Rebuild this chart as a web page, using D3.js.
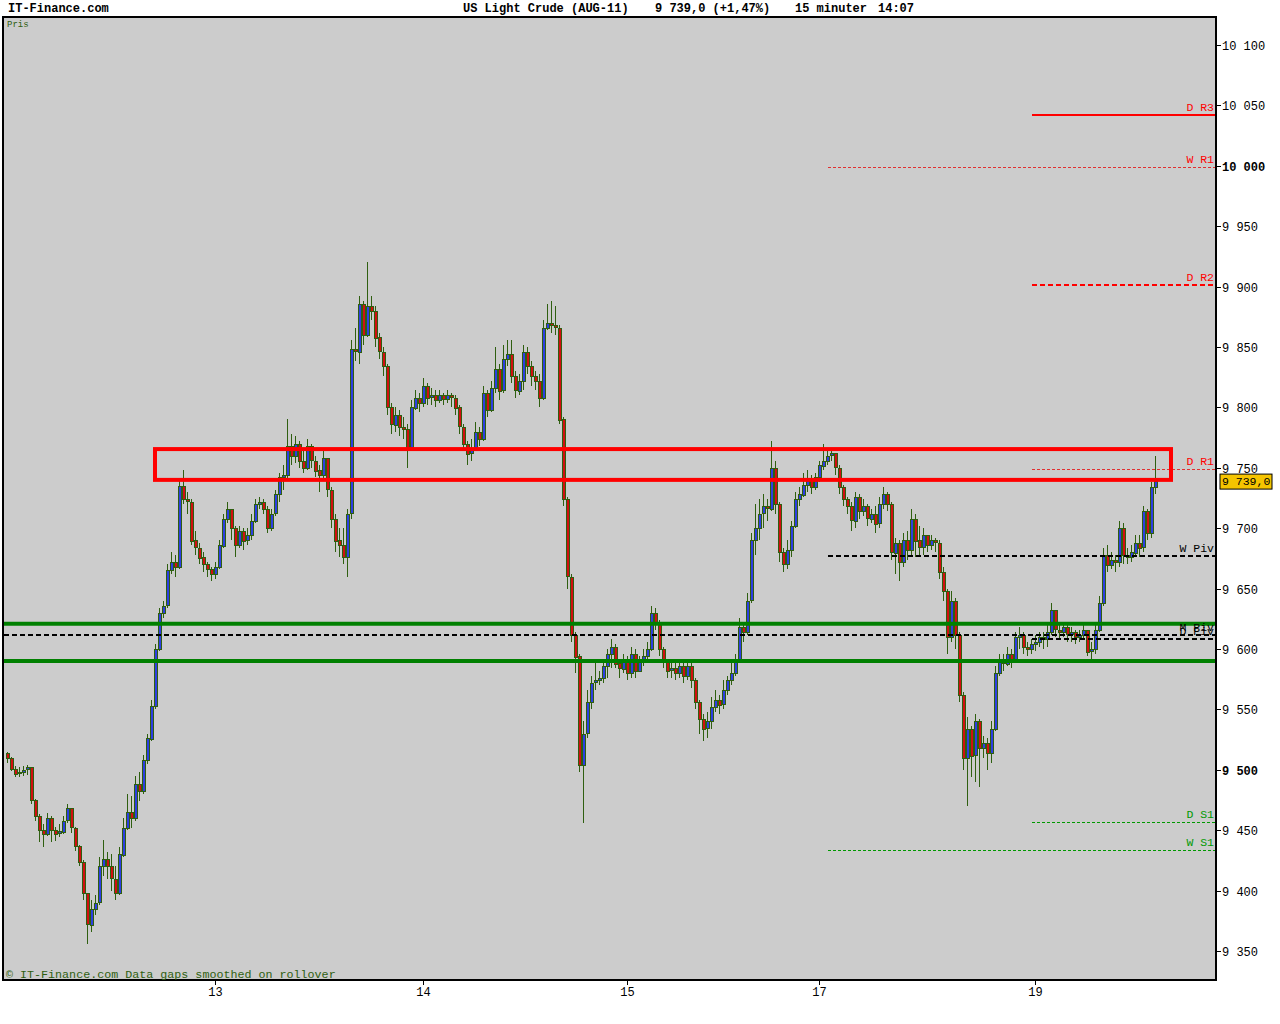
<!doctype html>
<html>
<head>
<meta charset="utf-8">
<title>US Light Crude (AUG-11)</title>
<script src="https://cdn.jsdelivr.net/npm/d3@7"></script>
<style>
  body { margin: 0; background: #ffffff; }
  svg { display: block; }
  text { font-family: "Liberation Mono", "DejaVu Sans Mono", monospace; }
</style>
</head>
<body>
<script>

    // 15 minute bars, open = previous close
    var firstOpen = 9514;
    var closes = [
        9510, 9501, 9497, 9498, 9500, 9502, 9475, 9462, 9450, 9447,
        9460, 9450, 9447, 9449, 9458, 9468, 9452, 9437, 9424, 9398,
        9372, 9385, 9390, 9420, 9426, 9420, 9410, 9398, 9430, 9452,
        9465, 9460, 9488, 9482, 9508, 9526, 9553, 9600, 9630, 9636,
        9665, 9672, 9668, 9735, 9724, 9722, 9690, 9684, 9676, 9670,
        9666, 9662, 9668, 9686, 9708, 9716, 9700, 9686, 9698, 9690,
        9694, 9706, 9720, 9722, 9716, 9700, 9712, 9728, 9742, 9744,
        9768, 9760, 9770, 9756, 9750, 9768, 9756, 9748, 9744, 9758,
        9732, 9708, 9690, 9686, 9676, 9712, 9848, 9846, 9886, 9860,
        9884, 9880, 9858, 9846, 9834, 9800, 9786, 9794, 9784, 9782,
        9766, 9800, 9808, 9804, 9818, 9808, 9810, 9806, 9810, 9807,
        9810, 9808, 9800, 9784, 9770, 9762, 9766, 9780, 9774, 9812,
        9798, 9816, 9832, 9814, 9840, 9844, 9826, 9814, 9822, 9846,
        9834, 9826, 9822, 9808, 9866, 9870, 9868, 9866, 9790, 9724,
        9660, 9612, 9594, 9504, 9530, 9556, 9572, 9574, 9576, 9586,
        9596, 9602, 9588, 9584, 9592, 9580, 9596, 9582, 9590, 9594,
        9600, 9630, 9622, 9600, 9590, 9582, 9584, 9580, 9586, 9578,
        9586, 9574, 9556, 9542, 9534, 9540, 9552, 9558, 9554, 9566,
        9574, 9580, 9590, 9618, 9614, 9640, 9690, 9700, 9712, 9718,
        9716, 9750, 9720, 9680, 9670, 9682, 9702, 9724, 9728, 9736,
        9740, 9734, 9742, 9752, 9756, 9760, 9762, 9750, 9734, 9724,
        9718, 9706, 9726, 9714, 9718, 9708, 9712, 9704, 9720, 9728,
        9720, 9680, 9688, 9672, 9690, 9682, 9708, 9690, 9684, 9694,
        9686, 9690, 9688, 9664, 9648, 9610, 9640, 9612, 9562, 9510,
        9534, 9512, 9540, 9518, 9522, 9514, 9534, 9580, 9590, 9588,
        9596, 9592, 9610, 9612, 9602, 9600, 9604, 9606, 9610, 9608,
        9614, 9632, 9616, 9614, 9618, 9612, 9614, 9610, 9612, 9616,
        9598, 9600, 9616, 9638, 9678, 9670, 9674, 9672, 9700, 9678,
        9676, 9680, 9688, 9684, 9714, 9696, 9734, 9739
    ];
    var highs = [
        9515, 9511, 9503, 9502, 9503, 9504, 9502, 9476, 9463, 9455,
        9464, 9462, 9453, 9455, 9462, 9472, 9468, 9453, 9438, 9425,
        9398, 9392, 9396, 9428, 9442, 9432, 9430, 9420, 9436, 9460,
        9480, 9478, 9495, 9498, 9512, 9530, 9558, 9604, 9634, 9640,
        9670, 9680, 9678, 9740, 9748, 9730, 9724, 9698, 9688, 9680,
        9672, 9668, 9672, 9690, 9712, 9722, 9716, 9702, 9702, 9700,
        9700, 9712, 9724, 9726, 9724, 9718, 9716, 9732, 9746, 9752,
        9790, 9778, 9776, 9772, 9765, 9774, 9770, 9760, 9752, 9764,
        9758, 9734, 9712, 9700, 9700, 9716, 9856, 9866, 9892, 9888,
        9920, 9892, 9884, 9862, 9850, 9836, 9804, 9800, 9798, 9792,
        9786, 9806, 9814, 9812, 9824, 9820, 9816, 9814, 9814, 9812,
        9814, 9812, 9810, 9802, 9786, 9772, 9774, 9788, 9784, 9818,
        9814, 9822, 9850, 9836, 9852, 9856, 9856, 9830, 9828, 9852,
        9850, 9838, 9830, 9828, 9872, 9886, 9888, 9884, 9868, 9792,
        9726, 9662, 9614, 9596, 9540, 9566, 9578, 9588, 9582, 9590,
        9600, 9608, 9604, 9592, 9596, 9594, 9602, 9600, 9594, 9600,
        9606, 9636, 9634, 9624, 9602, 9592, 9590, 9588, 9590, 9592,
        9592, 9588, 9576, 9558, 9546, 9548, 9560, 9566, 9562, 9574,
        9578, 9588, 9596, 9626, 9622, 9646, 9696, 9720, 9724, 9728,
        9724, 9772, 9756, 9722, 9684, 9690, 9706, 9730, 9734, 9746,
        9748, 9744, 9746, 9756, 9770, 9764, 9766, 9762, 9752, 9736,
        9726, 9722, 9730, 9728, 9724, 9720, 9716, 9718, 9726, 9734,
        9730, 9722, 9692, 9690, 9696, 9698, 9716, 9712, 9702, 9700,
        9694, 9694, 9692, 9690, 9668, 9650, 9648, 9642, 9614, 9564,
        9544, 9536, 9546, 9542, 9528, 9526, 9540, 9586, 9596, 9596,
        9602, 9600, 9614, 9618, 9614, 9606, 9608, 9612, 9614, 9614,
        9620, 9638, 9630, 9620, 9622, 9620, 9618, 9616, 9616, 9622,
        9616, 9606, 9620, 9644, 9684, 9686, 9680, 9678, 9706, 9704,
        9684, 9686, 9694, 9694, 9718, 9716, 9738, 9760
    ];
    var lows = [
        9506, 9499, 9494, 9494, 9495, 9496, 9472, 9458, 9440, 9436,
        9445, 9440, 9441, 9444, 9447, 9456, 9448, 9433, 9420, 9392,
        9356, 9366, 9380, 9388, 9412, 9410, 9400, 9392, 9396, 9428,
        9450, 9452, 9458, 9474, 9480, 9505, 9524, 9550, 9598, 9626,
        9634, 9662, 9660, 9666, 9720, 9712, 9686, 9678, 9670, 9664,
        9660, 9656, 9658, 9666, 9684, 9704, 9690, 9676, 9684, 9682,
        9686, 9690, 9704, 9716, 9712, 9696, 9698, 9710, 9722, 9732,
        9740, 9752, 9754, 9750, 9746, 9748, 9750, 9742, 9730, 9740,
        9726, 9700, 9680, 9676, 9670, 9660, 9708, 9838, 9836, 9852,
        9858, 9872, 9850, 9840, 9826, 9794, 9778, 9780, 9776, 9774,
        9750, 9764, 9798, 9796, 9800, 9802, 9802, 9800, 9804, 9802,
        9804, 9800, 9794, 9778, 9764, 9752, 9756, 9764, 9768, 9772,
        9792, 9796, 9812, 9806, 9812, 9834, 9820, 9808, 9810, 9814,
        9828, 9818, 9814, 9800, 9806, 9864, 9862, 9860, 9786, 9718,
        9650, 9606, 9580, 9498, 9456, 9526, 9550, 9566, 9570, 9572,
        9576, 9584, 9584, 9576, 9580, 9574, 9576, 9576, 9582, 9586,
        9588, 9598, 9616, 9594, 9584, 9576, 9576, 9574, 9576, 9572,
        9574, 9568, 9550, 9530, 9524, 9526, 9534, 9548, 9546, 9550,
        9562, 9570, 9578, 9588, 9606, 9612, 9638, 9678, 9690, 9700,
        9706, 9714, 9712, 9672, 9664, 9666, 9676, 9700, 9718, 9726,
        9730, 9728, 9732, 9738, 9748, 9752, 9756, 9744, 9728, 9718,
        9712, 9698, 9700, 9708, 9710, 9702, 9704, 9696, 9700, 9716,
        9714, 9674, 9662, 9656, 9668, 9674, 9678, 9676, 9676, 9678,
        9680, 9682, 9680, 9658, 9640, 9596, 9606, 9600, 9556, 9500,
        9470, 9494, 9490, 9486, 9510, 9500, 9506, 9532, 9578, 9582,
        9586, 9584, 9590, 9600, 9596, 9594, 9596, 9598, 9602, 9600,
        9602, 9612, 9610, 9608, 9610, 9606, 9606, 9604, 9606, 9608,
        9594, 9592, 9596, 9614, 9636, 9664, 9666, 9664, 9668, 9670,
        9670, 9672, 9678, 9676, 9680, 9690, 9692, 9728
    ];

    // day labels and the bar index where each day starts
    var dayLabels = ["13", "14", "15", "17", "19"];
    var dayStart = [52, 104, 155, 203, 257];

    var priceTicks = [9350, 9400, 9450, 9500, 9550, 9600, 9650, 9700, 9750, 9800, 9850, 9900, 9950, 10000, 10050, 10100];

    // pivot levels: name, value, bar index where the line starts
    var levelNames = ["D R3", "W R1", "D R2", "D R1", "W Piv", "M Piv", "D Piv", "D S1", "W S1"];
    var levelValues = [10042, 9999, 9901, 9749, 9677, 9612, 9608, 9457, 9434];
    var levelFrom = [257, 206, 257, 257, 206, 0, 257, 257, 206];

    // hand drawn support lines and resistance box
    var supportLines = [9621, 9590];
    var boxBars = [37, 291];
    var boxPrices = [9740, 9765.5];

    var lastPrice = "9 739,0";

    var W = 1280, H = 1024;
    var plotLeft = 4, plotRight = 1216, plotTop = 18, plotBottom = 980;

    var svg = d3.select("body").append("svg")
        .attr("width", W)
        .attr("height", H);

    var x = d3.scaleLinear().domain([0, closes.length - 1]).range([7, 1155]);
    var y = d3.scaleLinear().domain([9350, 10100]).range([951, 45]);

    var fmt = function(d) { return d3.format(",")(d).replace(/,/g, " "); };

    // plot background
    svg.append("rect")
        .attr("x", plotLeft)
        .attr("y", plotTop)
        .attr("width", plotRight - plotLeft)
        .attr("height", plotBottom - plotTop)
        .attr("fill", "#cccccc");

    svg.append("defs").append("clipPath").attr("id", "clip")
        .append("rect")
        .attr("x", plotLeft)
        .attr("y", plotTop)
        .attr("width", plotRight - plotLeft)
        .attr("height", plotBottom - plotTop);

    var plot = svg.append("g").attr("clip-path", "url(#clip)");

    // candles
    var bars = closes.map(function(c, i) {
        return { i: i, o: i === 0 ? firstOpen : closes[i - 1], c: c, h: highs[i], l: lows[i] };
    });

    var wickColor = "#2f5f10";

    plot.append("g").selectAll("line")
        .data(bars)
        .enter().append("line")
        .attr("x1", function(d) { return Math.round(x(d.i)) + 0.5; })
        .attr("x2", function(d) { return Math.round(x(d.i)) + 0.5; })
        .attr("y1", function(d) { return y(d.h); })
        .attr("y2", function(d) { return y(d.l); })
        .attr("stroke", wickColor)
        .attr("stroke-width", 1)
        .attr("shape-rendering", "crispEdges");

    plot.append("g").selectAll("rect")
        .data(bars)
        .enter().append("rect")
        .attr("x", function(d) { return Math.round(x(d.i)) - 1; })
        .attr("y", function(d) { return Math.round(y(Math.max(d.o, d.c))) + 0.5; })
        .attr("width", 3)
        .attr("height", function(d) { return Math.max(1, Math.round(Math.abs(y(d.o) - y(d.c)))); })
        .attr("fill", function(d) { return d.c > d.o ? "#2d3fe0" : (d.c < d.o ? "#d01010" : wickColor); })
        .attr("stroke", wickColor)
        .attr("stroke-width", 1)
        .attr("shape-rendering", "crispEdges");

    // pivot lines
    function levelColor(name) {
        if (name.indexOf("R") > 0) return "#ff0000";
        if (name.indexOf("S") > 0) return "#009900";
        return "#000000";
    }
    function levelWidth(name) {
        if (name === "D R3" || name === "D R2" || name.indexOf("Piv") > 0) return 2;
        return 1;
    }
    function levelDash(name) {
        if (name === "D R3") return null;
        if (name === "D R2" || name.indexOf("Piv") > 0) return "5,3";
        return "3,2";
    }

    levelNames.forEach(function(name, k) {
        var ly = Math.round(y(levelValues[k]));
        plot.append("line")
            .attr("x1", k === 5 ? plotLeft : x(levelFrom[k]) - 3)
            .attr("x2", plotRight)
            .attr("y1", ly)
            .attr("y2", ly)
            .attr("stroke", name === "W R1" || name === "D R1" ? "#e03030" : levelColor(name))
            .attr("stroke-width", levelWidth(name))
            .attr("stroke-dasharray", levelDash(name))
            .attr("shape-rendering", "crispEdges");
        svg.append("text")
            .attr("x", plotRight - 2)
            .attr("y", ly - 4)
            .attr("text-anchor", "end")
            .attr("font-size", "11.5px")
            .attr("fill", levelColor(name))
            .text(name);
    });

    // support lines
    plot.selectAll(".support")
        .data(supportLines)
        .enter().append("line")
        .attr("class", "support")
        .attr("x1", plotLeft)
        .attr("x2", plotRight)
        .attr("y1", function(d) { return y(d); })
        .attr("y2", function(d) { return y(d); })
        .attr("stroke", "#008000")
        .attr("stroke-width", 4);

    // resistance box
    svg.append("rect")
        .attr("x", x(boxBars[0]))
        .attr("y", y(boxPrices[1]))
        .attr("width", x(boxBars[1]) - x(boxBars[0]))
        .attr("height", y(boxPrices[0]) - y(boxPrices[1]))
        .attr("fill", "none")
        .attr("stroke", "#ff0000")
        .attr("stroke-width", 4);

    // frame
    svg.append("rect")
        .attr("x", plotLeft - 1)
        .attr("y", plotTop - 1)
        .attr("width", plotRight - plotLeft + 1)
        .attr("height", plotBottom - plotTop + 1)
        .attr("fill", "none")
        .attr("stroke", "#000000")
        .attr("stroke-width", 2);

    // price axis
    var yAxis = svg.append("g");
    priceTicks.forEach(function(t) {
        var ty = Math.round(y(t)) + 0.5;
        yAxis.append("line")
            .attr("x1", plotRight)
            .attr("x2", plotRight + 5)
            .attr("y1", ty)
            .attr("y2", ty)
            .attr("stroke", "#000000");
        yAxis.append("text")
            .attr("x", plotRight + 6)
            .attr("y", ty + 4)
            .attr("font-size", "12px")
            .style("font-weight", t % 500 === 0 ? "bold" : "normal")
            .text(fmt(t));
    });

    // last price marker
    var lp = y(closes[closes.length - 1]);
    svg.append("rect")
        .attr("x", 1220)
        .attr("y", lp - 7)
        .attr("width", 52)
        .attr("height", 15)
        .attr("fill", "#f5c400")
        .attr("stroke", "#000000")
        .attr("stroke-width", 1);
    svg.append("text")
        .attr("x", 1222)
        .attr("y", lp + 4)
        .attr("font-size", "11.5px")
        .text(lastPrice);

    // day axis
    dayStart.forEach(function(b, k) {
        var tx = Math.round(x(b)) + 0.5;
        svg.append("line")
            .attr("x1", tx)
            .attr("x2", tx)
            .attr("y1", plotBottom)
            .attr("y2", plotBottom + 5)
            .attr("stroke", "#000000");
        svg.append("text")
            .attr("x", tx)
            .attr("y", plotBottom + 16)
            .attr("text-anchor", "middle")
            .attr("font-size", "12px")
            .text(dayLabels[k]);
    });

    // header
    var header = [
        { x: 8, t: "IT-Finance.com" },
        { x: 463, t: "US Light Crude (AUG-11)" },
        { x: 655, t: "9 739,0 (+1,47%)" },
        { x: 795, t: "15 minuter" },
        { x: 878, t: "14:07" }
    ];
    header.forEach(function(h) {
        svg.append("text")
            .attr("x", h.x)
            .attr("y", 12)
            .attr("font-size", "12px")
            .style("font-weight", "bold")
            .text(h.t);
    });

    svg.append("text")
        .attr("x", 7)
        .attr("y", 27)
        .attr("font-size", "9px")
        .attr("fill", "#2f5f10")
        .text("Pris");

    svg.append("text")
        .attr("x", 6)
        .attr("y", 978)
        .attr("font-size", "11.7px")
        .attr("fill", "#2f5f10")
        .text("\u00a9 IT-Finance.com Data gaps smoothed on rollover");

</script>
</body>
</html>
